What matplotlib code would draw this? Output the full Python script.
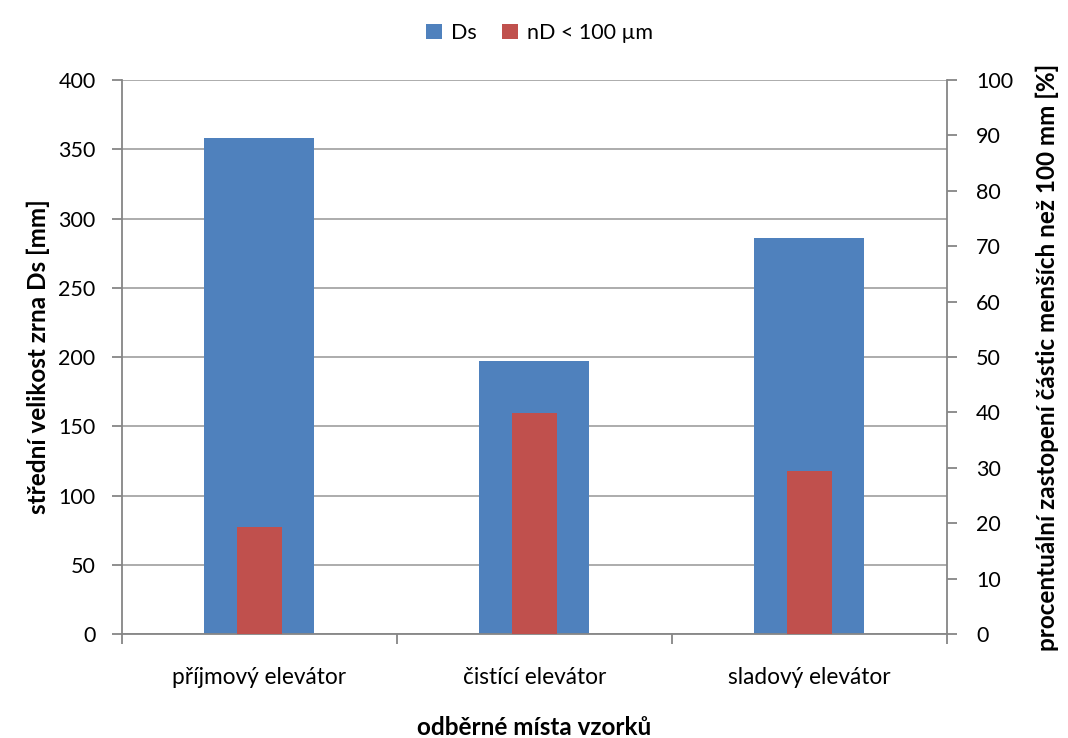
import matplotlib
matplotlib.use("Agg")
import matplotlib.pyplot as plt
from matplotlib.patches import Patch
import numpy as np

plt.rcParams['font.family'] = ['Lato', 'DejaVu Sans']

categories = ["příjmový elevátor", "čistící elevátor", "sladový elevátor"]
ds_values = [358, 197, 286]          # Ds [mm], left axis
nd_values = [19.3, 39.9, 29.4]       # nD < 100 µm [%], right axis
left_ticks = list(range(0, 401, 50))
right_ticks = list(range(0, 101, 10))

blue = "#4f81bd"
red = "#c0504d"
grid_gray = "#a6a6a6"
axis_gray = "#868686"

fig = plt.figure(figsize=(10.68, 7.38), dpi=100)
ax = fig.add_axes([0.1142, 0.1409, 0.7725, 0.7507])
ax2 = ax.twinx()

x = np.arange(len(categories))
ax.bar(x, ds_values, width=0.40, color=blue, zorder=2)
ax2.bar(x, nd_values, width=0.167, color=red, zorder=2)

ax.set_xlim(-0.5, len(categories) - 0.5)
ax.set_ylim(0, 400)
ax2.set_ylim(0, 100)
ax.set_yticks(left_ticks)
ax2.set_yticks(right_ticks)
ax.yaxis.grid(True, color=grid_gray, linewidth=1.3, zorder=0)
ax.set_axisbelow(True)

ax.set_xticks(x)
ax.set_xticklabels(categories)
ax.set_xticks(np.arange(-0.5, len(categories), 1.0), minor=True)
ax.tick_params(axis='x', which='major', length=0, pad=24, labelsize=16.3)
ax.tick_params(axis='x', which='minor', length=7, color=axis_gray, width=1.3)
ax.tick_params(axis='y', length=7, color=axis_gray, width=1.3, labelsize=15.5, pad=12)
ax2.tick_params(axis='y', length=7, color=axis_gray, width=1.3, labelsize=15.5, pad=14)

for a in (ax, ax2):
    for s in a.spines.values():
        s.set_visible(False)
ax.spines['left'].set_visible(True)
ax.spines['left'].set_color(axis_gray)
ax.spines['left'].set_linewidth(1.3)
ax.spines['bottom'].set_visible(True)
ax.spines['bottom'].set_color(axis_gray)
ax.spines['bottom'].set_linewidth(1.3)
ax2.spines['right'].set_visible(True)
ax2.spines['right'].set_color(axis_gray)
ax2.spines['right'].set_linewidth(1.3)

ax.set_ylabel("střední velikost zrna Ds [mm]", fontsize=17.5, fontweight='bold', labelpad=6)
ax2.set_ylabel("procentuální zastopení částic menších než 100 mm [%]", fontsize=17.5,
               fontweight='bold', labelpad=16)
ax.set_xlabel("odběrné místa vzorků", fontsize=17.5, fontweight='bold', labelpad=20)

handles = [Patch(facecolor=blue, label="Ds"), Patch(facecolor=red, label="nD < 100 µm")]
fig.legend(handles=handles, loc='upper center', bbox_to_anchor=(0.505, 0.995), ncol=2,
           frameon=False, fontsize=15.5, handlelength=0.75, handleheight=0.75,
           handletextpad=0.4, columnspacing=1.2)

fig.savefig("out.png", dpi=100, facecolor='white')
